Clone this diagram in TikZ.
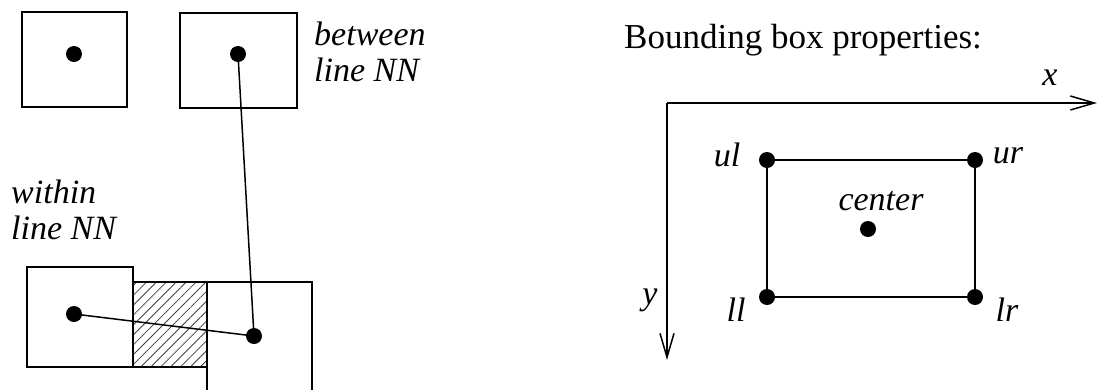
\documentclass[tikz,border=0pt]{standalone}
\usepackage{fontspec}
\setmainfont{Liberation Serif}
\usetikzlibrary{patterns.meta,arrows.meta}
\begin{document}
\begin{tikzpicture}[x=1pt,y=-1pt,
  box/.style={draw,line width=1.5pt,inner sep=0pt,outer sep=0pt},
  dot/.style={circle,fill=black,inner sep=0pt,minimum size=16pt},
  conn/.style={line width=1.5pt},
  lbl/.style={font=\fontsize{34}{36}\selectfont\itshape,inner sep=0pt,align=left},
  axis/.style={line width=1.5pt,-{Straight Barb[length=24pt,width=14pt,line width=1.5pt]}}]
\useasboundingbox (0,0) rectangle (1098,389);
% top boxes
\node[box,minimum width=105pt,minimum height=95pt] (b1) at (74.5,59.5) {};
\node[box,minimum width=117pt,minimum height=95pt] (b2) at (238.5,60.5) {};
\node[dot] (d1) at (74,54) {};
\node[dot] (d2) at (238,54) {};
\node[lbl,anchor=north west] (between) at (314,22) {between\\line NN};
% bottom
\path[pattern={Lines[angle=45,distance=7pt,line width=0.8pt]},pattern color=black!75] (133,282) rectangle (207,367);
\draw[line width=1.1pt] (133,282) -- (207,282) (133,367) -- (207,367);
\node[box,minimum width=106pt,minimum height=100pt] (b3) at (80,317) {};
\node[box,minimum width=105pt,minimum height=115pt] (b4) at (259.5,339.5) {};
\node[dot] (d3) at (74,314) {};
\node[dot] (d4) at (254,336) {};
\node[lbl,anchor=north west] (within) at (11,180) {within\\line NN};
\draw[conn] (d2.center) -- (d4.center);
\draw[conn] (d3.center) -- (d4.center);
% right side
\node[font=\fontsize{35}{36}\selectfont,anchor=west,inner sep=0pt] (title) at (624,40) {Bounding box properties:};
\coordinate (o) at (667,103);
\coordinate (xe) at (1097,103);
\coordinate (ye) at (667,360);
\draw[axis] (o) -- (xe);
\draw[axis] (o) -- (ye);
\node[lbl] (xl) at (1050,78) {x};
\node[lbl] (yl) at (650,300) {y};
\node[dot] (ul) at (767,160) {};
\node[dot] (ur) at (975,160) {};
\node[dot] (ll) at (767,297) {};
\node[dot] (lr) at (975,297) {};
\node[dot] (c) at (868,229) {};
\draw[conn] (ul.center) -- (ur.center) -- (lr.center) -- (ll.center) -- cycle;
\node[lbl] (ull) at (727,155) {ul};
\node[lbl] (url) at (1008,156) {ur};
\node[lbl] (lll) at (736,310) {ll};
\node[lbl] (lrl) at (1007,310) {lr};
\node[lbl] (cl) at (881,201) {center};
\end{tikzpicture}
\end{document}
